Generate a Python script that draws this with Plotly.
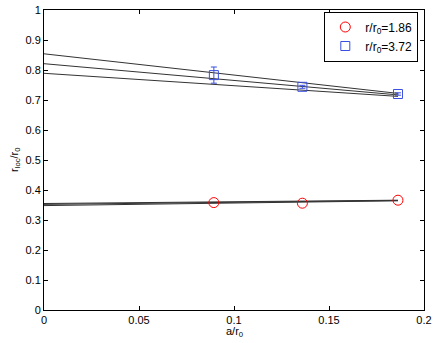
import plotly.graph_objects as go

# a/r0 positions of the three lattice spacings
a_r0 = [0.0894, 0.1360, 0.1863]

# r_loc/r0 at r/r0 = 1.86 (circles) and r/r0 = 3.72 (squares)
y_186 = [0.358, 0.356, 0.366]
y_372 = [0.783, 0.744, 0.720]
err_372 = [0.027, 0.005, 0.004]

# continuum extrapolation lines: (intercept, value at last a/r0)
fits_372 = [(0.854, 0.722), (0.821, 0.717), (0.789, 0.712)]
fits_186 = [(0.355, 0.366), (0.352, 0.365), (0.348, 0.364)]

fig = go.Figure()

for y0, y1 in fits_372 + fits_186:
    fig.add_trace(go.Scatter(x=[0, a_r0[-1]], y=[y0, y1], mode='lines',
                             line=dict(color='#333333', width=1),
                             showlegend=False, hoverinfo='skip'))

fig.add_trace(go.Scatter(x=a_r0, y=y_186, mode='markers', name='r/r<sub>0</sub>=1.86',
                         marker=dict(symbol='circle-open', size=10, color='red',
                                     line=dict(width=1))))
fig.add_trace(go.Scatter(x=a_r0, y=y_372, mode='markers', name='r/r<sub>0</sub>=3.72',
                         error_y=dict(type='data', array=err_372, color='#3b4fe0',
                                      thickness=1, width=3),
                         marker=dict(symbol='square-open', size=9, color='#3b4fe0',
                                     line=dict(width=1))))

axis_style = dict(showline=True, linecolor='black', linewidth=1, mirror='ticks',
                  ticks='inside', ticklen=4, tickcolor='black', showgrid=False,
                  zeroline=False, automargin=False,
                  tickfont=dict(size=11, color='black'))

fig.update_xaxes(range=[0, 0.2], tickvals=[0, 0.05, 0.1, 0.15, 0.2],
                 ticktext=['0', '0.05', '0.1', '0.15', '0.2'], **axis_style)
fig.update_yaxes(range=[0, 1], tickvals=[i / 10 for i in range(11)],
                 ticktext=['0', '0.1', '0.2', '0.3', '0.4', '0.5', '0.6', '0.7', '0.8', '0.9', '1'],
                 **axis_style)

# axis titles placed as annotations
fig.add_annotation(text='a/r<sub>0</sub>', x=0.5, y=0, xref='paper', yref='paper',
                   xanchor='center', yanchor='top', yshift=-13, showarrow=False,
                   font=dict(size=11))
fig.add_annotation(text='r<sub>loc</sub>/r<sub>0</sub>', x=0, y=0.5, xref='paper', yref='paper',
                   xanchor='right', yanchor='middle', xshift=-20, textangle=-90,
                   showarrow=False, font=dict(size=11))

fig.update_layout(
    width=436, height=343,
    margin=dict(l=44, r=12, t=10, b=33),
    paper_bgcolor='white', plot_bgcolor='white',
    font=dict(family='Liberation Sans, Arial, sans-serif', size=11, color='black'),
    legend=dict(x=0.985, y=0.995, xanchor='right', yanchor='top',
                bgcolor='white', bordercolor='black', borderwidth=1,
                font=dict(size=12), tracegroupgap=0),
)

# drop the default page margin so the figure sits at the window's corner
fig.write_html("out.html", config={'displayModeBar': False},
               post_script="document.body.style.margin='0';")
